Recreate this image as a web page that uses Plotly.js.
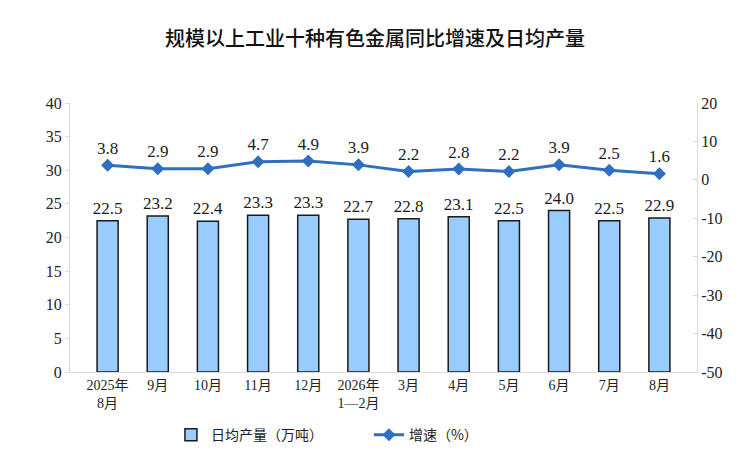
<!DOCTYPE html>
<html>
<head>
<meta charset="utf-8">
<script src="https://cdn.plot.ly/plotly-3.0.1.min.js"></script>
<style>html,body{margin:0;padding:0;background:#fff;}#chart{width:750px;height:461px;}</style>
</head>
<body>
<div id="chart"></div>
<script>
const categories = ["2025年<br>8月","9月","10月","11月","12月","2026年<br>1—2月","3月","4月","5月","6月","7月","8月"];
const output = [22.5, 23.2, 22.4, 23.3, 23.3, 22.7, 22.8, 23.1, 22.5, 24.0, 22.5, 22.9];
const growth = [3.8, 2.9, 2.9, 4.7, 4.9, 3.9, 2.2, 2.8, 2.2, 3.9, 2.5, 1.6];
const leftTicks = [0,5,10,15,20,25,30,35,40];
const rightTicks = [-50,-40,-30,-20,-10,0,10,20];
const rightTickText = ["-50","-40","-30","-20","-10","0","10","20"];

const serif = "'Liberation Serif', 'DejaVu Serif', 'Noto Sans CJK SC', serif";
const data = [
  {
    type: "bar", name: "日均产量（万吨）", x: categories, y: output,
    width: 0.42,
    marker: {color: "#99CCFF", line: {color: "#1a1a1a", width: 1.5}},
    text: output.map(v => v.toFixed(1)), textposition: "outside", constraintext: "none",
    textfont: {family: serif, size: 17, color: "#1a1a1a"},
    cliponaxis: false, hoverinfo: "skip"
  },
  {
    type: "scatter", mode: "lines+markers+text", name: "增速（%）", x: categories, y: growth,
    yaxis: "y2",
    line: {color: "#2F6FBF", width: 3},
    marker: {symbol: "diamond", size: 10, color: "#2F6FBF"},
    text: growth.map(v => v.toFixed(1)), textposition: "top center",
    textfont: {family: serif, size: 17, color: "#1a1a1a"},
    cliponaxis: false, hoverinfo: "skip"
  }
];
const layout = {
  width: 750, height: 461,
  margin: {l: 70, r: 53, t: 103, b: 89, autoexpand: false},
  paper_bgcolor: "#fff", plot_bgcolor: "#fff",
  title: {text: "规模以上工业十种有色金属同比增速及日均产量", x: 0.5, xanchor: "center", y: 0.915, yanchor: "middle",
          font: {family: "'Noto Sans CJK SC', sans-serif", size: 20, color: "#111", weight: 500}},
  showlegend: true,
  legend: {orientation: "h", x: 0.161, xanchor: "left", y: -0.235, yanchor: "middle",
           font: {family: "'Noto Sans CJK SC', sans-serif", size: 14, color: "#222"},
           entrywidth: 153, entrywidthmode: "pixels", traceorder: "normal"},
  xaxis: {type: "category", showgrid: false, showline: true, linecolor: "#d9d9d9", linewidth: 1,
          ticks: "", tickfont: {family: serif, size: 14, color: "#222"}, zeroline: false, fixedrange: true},
  yaxis: {range: [0, 40], tickvals: leftTicks, showgrid: false, showline: true, linecolor: "#d9d9d9",
          ticks: "outside", ticklen: 4, tickcolor: "#d9d9d9", zeroline: false,
          tickfont: {family: serif, size: 16, color: "#222"}, fixedrange: true},
  yaxis2: {range: [-50, 20], tickvals: rightTicks, ticktext: rightTickText, overlaying: "y", side: "right", showgrid: false,
           showline: true, linecolor: "#d9d9d9", ticks: "inside", ticklen: 4, tickcolor: "#d9d9d9",
           zeroline: false, tickfont: {family: serif, size: 16, color: "#222"}, fixedrange: true}
};
Plotly.newPlot("chart", data, layout, {displayModeBar: false, staticPlot: true});
</script>
</body>
</html>
